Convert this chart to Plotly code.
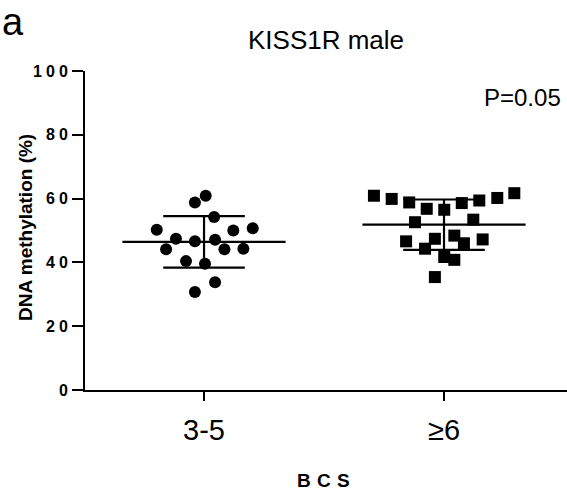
import numpy as np
import plotly.graph_objects as go

# KISS1R methylation in males, grouped by body condition score (BCS)
groups = ["3-5", "≥6"]

# group 3-5: horizontal scatter offset and methylation (%)
g1_offset = [-0.038, 0.007, 0.042, -0.197, 0.122, 0.203, -0.117, -0.038,
             0.046, -0.158, 0.085, 0.164, -0.075, 0.004, 0.046, -0.038]
g1_values = [58.8, 60.9, 54.2, 50.2, 50.0, 50.7, 47.4, 46.6,
             47.1, 44.1, 44.1, 44.3, 40.4, 39.6, 33.8, 30.7]

# group >=6
g2_offset = [-0.292, -0.218, -0.145, -0.072, 0.001, 0.074, 0.147, 0.222, 0.293,
             -0.121, 0.122, -0.158, -0.038, 0.043, 0.083, 0.161, -0.079,
             0.001, 0.043, -0.038]
g2_values = [60.9, 59.9, 58.8, 56.8, 56.5, 58.6, 59.4, 60.2, 61.7,
             52.6, 53.4, 46.6, 47.4, 48.4, 46.0, 47.2, 44.3,
             41.7, 40.8, 35.4]

y_ticks = [0, 20, 40, 60, 80, 100]
p_label = "P=0.05"

FONT = "Arial, Liberation Sans, sans-serif"


def spaced(s, gap="\u2005"):
    """Letter-spaced bold label."""
    return "<b>" + gap.join(s) + "</b>"


fig = go.Figure()

series = [(0, g1_offset, g1_values, "circle"), (1, g2_offset, g2_values, "square")]
for pos, offs, vals, sym in series:
    fig.add_trace(go.Scatter(
        x=[pos + o for o in offs], y=vals, mode="markers",
        marker=dict(symbol=sym, size=12, color="black", line=dict(width=0)),
        showlegend=False, hoverinfo="y"))

# mean and SD bars drawn on top of the points
for pos, offs, vals, sym in series:
    v = np.array(vals)
    m, s = v.mean(), v.std(ddof=1)
    line = dict(color="black", width=2.2)
    fig.add_trace(go.Scatter(x=[pos - 0.34, pos + 0.34], y=[m, m], mode="lines",
                             line=line, showlegend=False, hoverinfo="skip"))
    for yy in (m - s, m + s):
        fig.add_trace(go.Scatter(x=[pos - 0.17, pos + 0.17], y=[yy, yy], mode="lines",
                                 line=line, showlegend=False, hoverinfo="skip"))
    fig.add_trace(go.Scatter(x=[pos, pos], y=[m - s, m + s], mode="lines",
                             line=line, showlegend=False, hoverinfo="skip"))

L, R, T, B = 85, 0, 71, 105
W, H = 567, 495
pw, ph = W - L - R, H - T - B
px = lambda x: (x - L) / pw
py = lambda y: (H - B - y) / ph

fig.update_layout(
    width=W, height=H,
    margin=dict(l=L, r=R, t=T, b=B),
    paper_bgcolor="white", plot_bgcolor="white",
    font=dict(family=FONT, color="black"),
    xaxis=dict(
        range=[-0.496, 1.5125], tickmode="array", tickvals=[0, 1], ticktext=groups,
        showline=True, linecolor="black", linewidth=2, ticks="outside",
        ticklen=9, tickwidth=2, tickcolor="black", showgrid=False, zeroline=False,
        tickfont=dict(size=29, family=FONT), ticklabelstandoff=4),
    yaxis=dict(
        range=[0, 100], tickmode="array", tickvals=y_ticks,
        ticktext=[spaced(str(t)) for t in y_ticks],
        showline=True, linecolor="black", linewidth=2, ticks="outside",
        ticklen=11, tickwidth=2, tickcolor="black", showgrid=False, zeroline=False,
        tickfont=dict(size=16, family=FONT),
        ticklabelstandoff=1),
    annotations=[
        dict(text="a", x=px(0), y=py(22), xref="paper", yref="paper",
             xanchor="left", yanchor="middle", showarrow=False,
             font=dict(size=38, family=FONT)),
        dict(text="KISS1R male", x=px(326), y=py(40), xref="paper", yref="paper",
             xanchor="center", yanchor="middle", showarrow=False,
             font=dict(size=26, family=FONT)),
        dict(text=p_label, x=px(563), y=py(97), xref="paper", yref="paper",
             xanchor="right", yanchor="middle", showarrow=False,
             font=dict(size=24, family=FONT)),
        dict(text="<b>DNA methylation (%)</b>", x=px(25), y=py(228),
             xref="paper", yref="paper", xanchor="center", yanchor="middle",
             textangle=-90, showarrow=False, font=dict(size=19, family=FONT)),
        dict(text=spaced("BCS", "\u2004"),
             x=px(323), y=py(480), xref="paper", yref="paper",
             xanchor="center", yanchor="middle", showarrow=False,
             font=dict(size=19, family=FONT)),
    ],
)

fig.write_html("out.html")
